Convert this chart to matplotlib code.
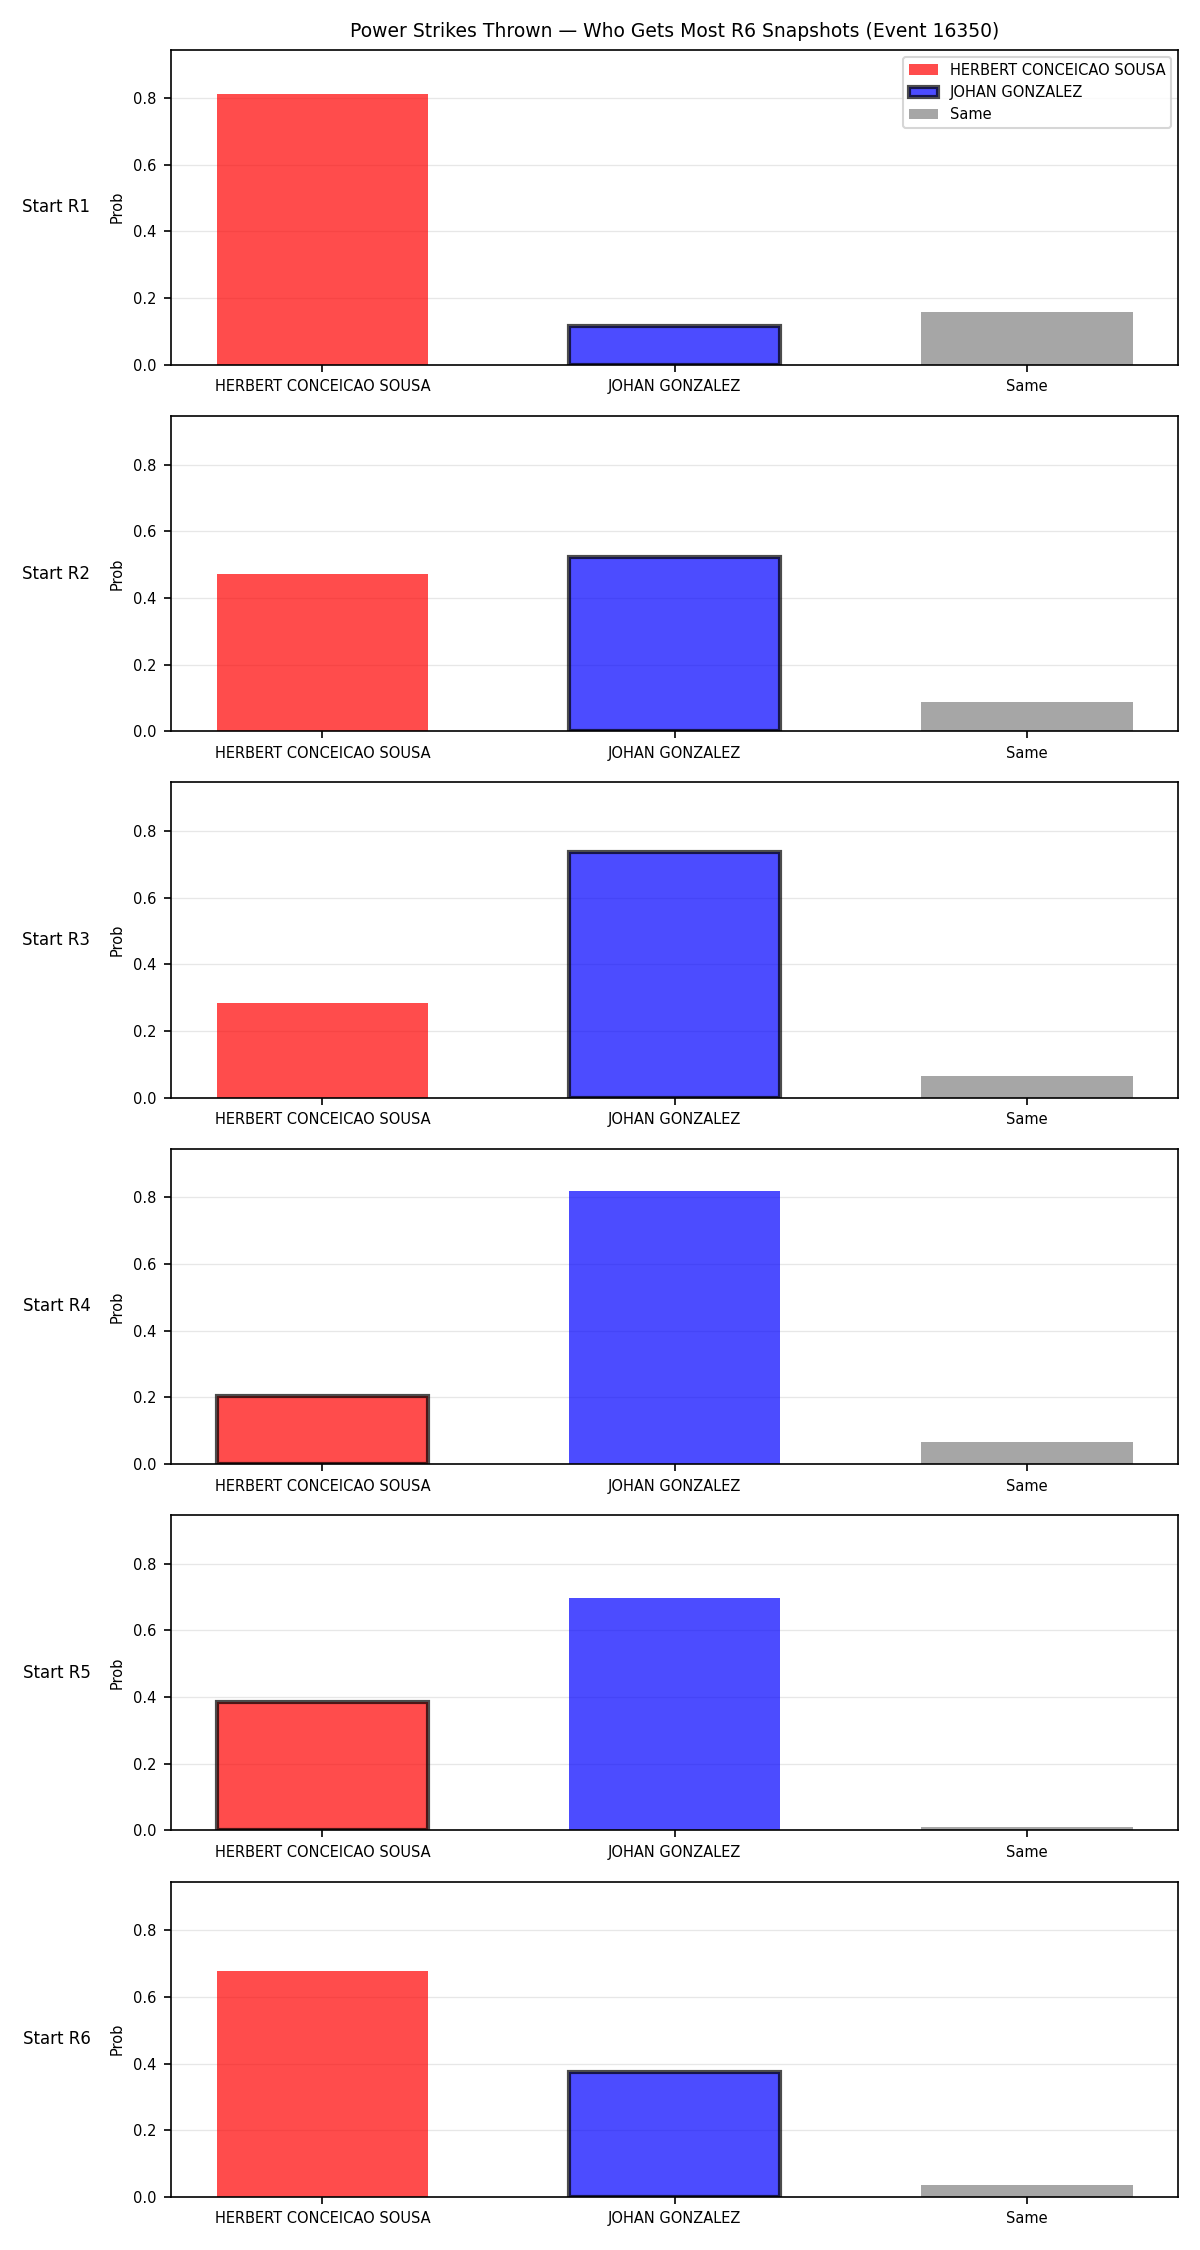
import matplotlib
matplotlib.use("Agg")
import matplotlib.pyplot as plt

# Outcome categories and colours
categories = ["HERBERT CONCEICAO SOUSA", "JOHAN GONZALEZ", "Same"]
bar_colors = ["red", "blue", "gray"]

# Probabilities per starting round
start_rounds = ["Start R1", "Start R2", "Start R3", "Start R4", "Start R5", "Start R6"]
probs = [
    [0.813, 0.117, 0.158],
    [0.471, 0.522, 0.087],
    [0.285, 0.737, 0.065],
    [0.203, 0.820, 0.066],
    [0.385, 0.697, 0.010],
    [0.679, 0.375, 0.037],
]
# Which outcome is highlighted (outlined) in each panel
highlighted = [1, 1, 1, 0, 0, 1]

plt.rcParams['font.size'] = 7

fig, axes = plt.subplots(len(start_rounds), 1, figsize=(8, 15), dpi=150)

for i, ax in enumerate(axes):
    x = list(range(len(categories)))
    bars = ax.bar(x, probs[i], color=bar_colors, alpha=0.7, width=0.6)
    for j, b in enumerate(bars):
        b.set_label(categories[j])
        if j == highlighted[i]:
            b.set_edgecolor("black")
            b.set_linewidth(2)

    ax.set_xticks(x)
    ax.set_xticklabels(categories)
    ax.set_ylim(0, 0.946)
    ax.set_ylabel("Prob")
    ax.grid(axis="y", alpha=0.3, linewidth=0.6)
    ax.set_axisbelow(True)
    ax.text(-0.08, 0.5, start_rounds[i], transform=ax.transAxes,
            ha="right", va="center", fontsize=8)

    if i == 0:
        ax.set_title("Power Strikes Thrown — Who Gets Most R6 Snapshots (Event 16350)", fontsize=9)
        ax.legend(loc="upper right")

plt.subplots_adjust(left=0.1425, right=0.982, top=0.978, bottom=0.0236, hspace=0.162)
plt.savefig("out.png", dpi=150)
